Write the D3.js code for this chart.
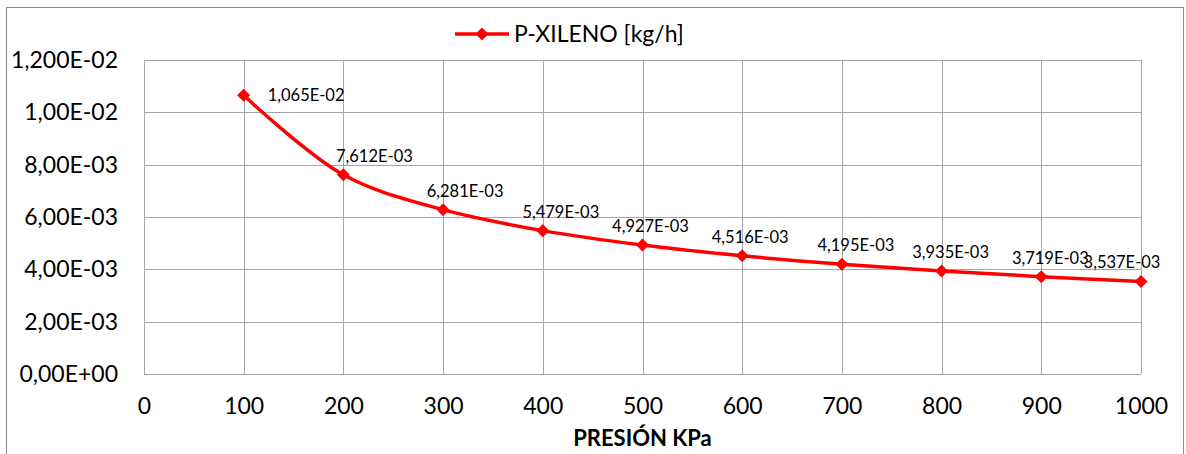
<!DOCTYPE html>
<html>
<head>
<meta charset="utf-8">
<script src="https://cdn.jsdelivr.net/npm/d3@7"></script>
<style>
  body { margin: 0; background: #fff; }
  text { font-family: "Lato", "Open Sans", sans-serif; fill: #000; }
</style>
</head>
<body>
<div id="chart-area"></div>
<script>
// data
const presion = [100, 200, 300, 400, 500, 600, 700, 800, 900, 1000]
const pXileno = [1.065e-2, 7.612e-3, 6.281e-3, 5.479e-3, 4.927e-3, 4.516e-3, 4.195e-3, 3.935e-3, 3.719e-3, 3.537e-3]
const pXilenoLabels = ["1,065E-02", "7,612E-03", "6,281E-03", "5,479E-03", "4,927E-03", "4,516E-03", "4,195E-03", "3,935E-03", "3,719E-03", "3,537E-03"]
const xTicks = [0, 100, 200, 300, 400, 500, 600, 700, 800, 900, 1000]
const yTicks = [0, 0.002, 0.004, 0.006, 0.008, 0.010, 0.012]
const yTickLabels = ["0,00E+00", "2,00E-03", "4,00E-03", "6,00E-03", "8,00E-03", "1,00E-02", "1,200E-02"]
const seriesName = "P-XILENO [kg/h]"
const xTitle = "PRESIÓN KPa"

// label nudges (layout, like Excel placed them)
const labelDx = [24, 31, 22, 18, 8, 8, 14, 9, 9, -19]

const W = 1186, H = 454
const MARGIN = { LEFT: 144, TOP: 60, RIGHT: 45, BOTTOM: 80 }
const WIDTH = W - MARGIN.LEFT - MARGIN.RIGHT
const HEIGHT = H - MARGIN.TOP - MARGIN.BOTTOM

const svg = d3.select("#chart-area").append("svg")
  .attr("width", W)
  .attr("height", H)

// outer chart border
svg.append("rect")
  .attr("x", 6.5).attr("y", 7.5)
  .attr("width", 1177).attr("height", 470)
  .attr("fill", "none")
  .attr("stroke", "#8c8c8c")

const g = svg.append("g")
  .attr("transform", `translate(${MARGIN.LEFT}, ${MARGIN.TOP})`)

const x = d3.scaleLinear().domain([0, 1000]).range([0, WIDTH])
const y = d3.scaleLinear().domain([0, 0.012]).range([HEIGHT, 0])

// gridlines
g.append("g").selectAll("line").data(yTicks).join("line")
  .attr("x1", 0).attr("x2", WIDTH)
  .attr("y1", d => Math.round(y(d)) + 0.5).attr("y2", d => Math.round(y(d)) + 0.5)
  .attr("stroke", "#a6a6a6")
g.append("g").selectAll("line").data(xTicks).join("line")
  .attr("y1", 0).attr("y2", HEIGHT)
  .attr("x1", d => Math.round(x(d)) + 0.5).attr("x2", d => Math.round(x(d)) + 0.5)
  .attr("stroke", "#a6a6a6")

// axes
const xAxis = g.append("g")
  .attr("transform", `translate(0, ${HEIGHT})`)
  .call(d3.axisBottom(x).tickValues(xTicks).tickSize(0).tickPadding(24).tickFormat(d3.format("d")))
xAxis.select(".domain").remove()
xAxis.selectAll("text").style("font-size", "23px").attr("font-family", null)

const yAxis = g.append("g")
  .call(d3.axisLeft(y).tickValues(yTicks).tickSize(0).tickPadding(26).tickFormat((d, i) => yTickLabels[i]))
yAxis.select(".domain").remove()
yAxis.selectAll("text").style("font-size", "23px").attr("font-family", null)

// x-axis title
g.append("text")
  .attr("x", WIDTH / 2)
  .attr("y", HEIGHT + 72)
  .attr("text-anchor", "middle")
  .style("font-size", "22px")
  .style("font-weight", "bold")
  .text(xTitle)

// series
const pts = presion.map((p, i) => ({ p, v: pXileno[i], label: pXilenoLabels[i], dx: labelDx[i] }))

const line = d3.line()
  .x(d => x(d.p))
  .y(d => y(d.v))
  .curve(d3.curveCatmullRom.alpha(0.5))

g.append("path")
  .attr("d", line(pts))
  .attr("fill", "none")
  .attr("stroke", "#ff0000")
  .attr("stroke-width", 3.5)

const diamond = d3.symbol(d3.symbolSquare, 85)
g.selectAll(".marker").data(pts).join("path")
  .attr("class", "marker")
  .attr("d", diamond)
  .attr("transform", d => `translate(${x(d.p)}, ${y(d.v)}) rotate(45)`)
  .attr("fill", "#ff0000")

// data labels
g.selectAll(".dlabel").data(pts).join("text")
  .attr("class", "dlabel")
  .attr("x", d => x(d.p) + d.dx)
  .attr("y", (d, i) => i === 0 ? y(d.v) + 6 : y(d.v) - 13)
  .attr("text-anchor", (d, i) => i === 0 ? "start" : "middle")
  .style("font-size", "16.5px")
  .text(d => d.label)

// legend
const legend = svg.append("g").attr("transform", "translate(455, 34)")
legend.append("line")
  .attr("x1", 0).attr("x2", 54)
  .attr("stroke", "#ff0000").attr("stroke-width", 3.5)
legend.append("path")
  .attr("d", diamond)
  .attr("transform", "translate(27, 0) rotate(45)")
  .attr("fill", "#ff0000")
legend.append("text")
  .attr("x", 59)
  .attr("dy", "0.35em")
  .style("font-size", "23px")
  .text(seriesName)
</script>
</body>
</html>
